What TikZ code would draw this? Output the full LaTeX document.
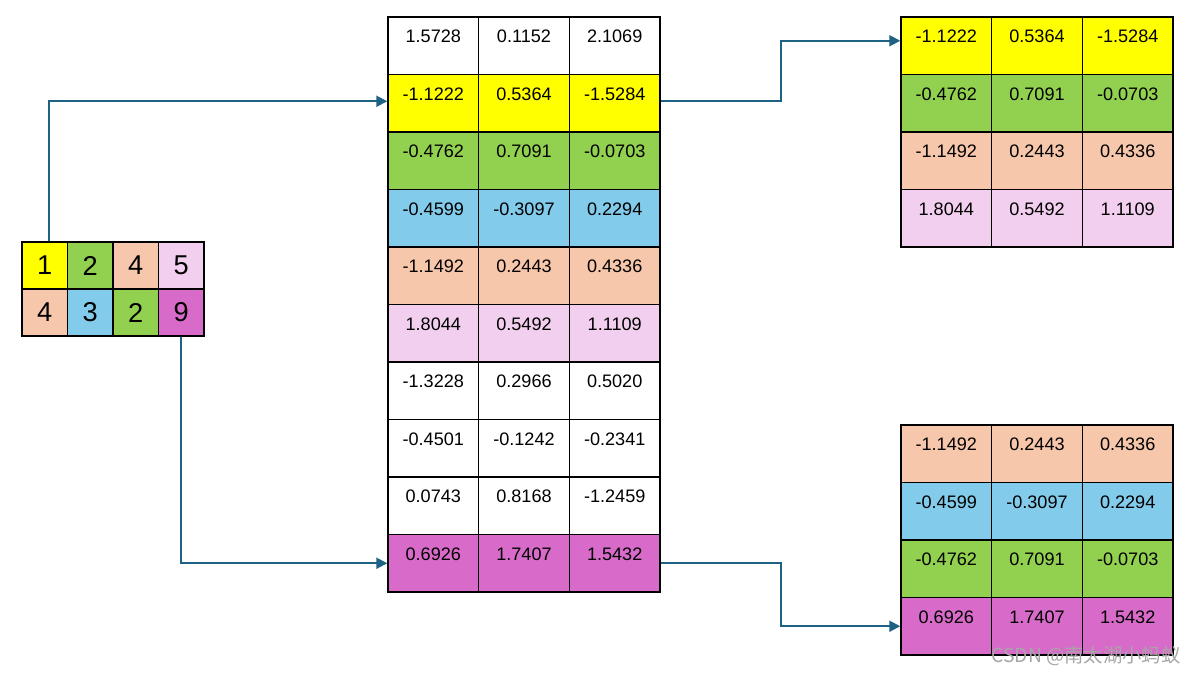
\documentclass[tikz,border=0pt]{standalone}
\usepackage{fontspec}
\setmainfont{Liberation Sans}
\newfontfamily\cjkfont{Noto Sans CJK SC}
\usetikzlibrary{arrows.meta}
\definecolor{cyel}{HTML}{FFFF00}
\definecolor{cgrn}{HTML}{92D050}
\definecolor{cblu}{HTML}{83CBEB}
\definecolor{cpch}{HTML}{F7C7AC}
\definecolor{cpnk}{HTML}{F2CFEE}
\definecolor{cmag}{HTML}{D86BCA}
\definecolor{carr}{HTML}{1D6284}

\begin{document}
\begin{tikzpicture}[x=0.02cm, y=-0.02cm,
    cell/.style={draw, line width=0.8pt, minimum width=1.813cm, minimum height=1.15cm, inner sep=0pt,
      text height=0.34cm, text depth=0.46cm, font=\fontsize{10.3}{12}\selectfont},
    small/.style={draw, line width=0.8pt, minimum width=0.91cm, minimum height=0.94cm, inner sep=0pt,
      font=\fontsize{15.5}{18}\selectfont},
    link/.style={-{Triangle[length=2.2mm, width=2.2mm]}, carr, line width=1.1pt}]
  \useasboundingbox (0,0) rectangle (1198,677);
  % index table
  \foreach \c/\v/\col in {1/1/cyel, 2/2/cgrn, 3/4/cpch, 4/5/cpnk}
    \node[small, fill=\col] (l1-\c) at ({22+45.5*(\c-0.5)},265.5) {\v};
  \foreach \c/\v/\col in {1/4/cpch, 2/3/cblu, 3/2/cgrn, 4/9/cmag}
    \node[small, fill=\col] (l2-\c) at ({22+45.5*(\c-0.5)},312.5) {\v};
  % embedding table
  \foreach \r/\a/\b/\d/\col in {1/1.5728/0.1152/2.1069/white, 2/-1.1222/0.5364/-1.5284/cyel,
      3/-0.4762/0.7091/-0.0703/cgrn, 4/-0.4599/-0.3097/0.2294/cblu, 5/-1.1492/0.2443/0.4336/cpch,
      6/1.8044/0.5492/1.1109/cpnk, 7/-1.3228/0.2966/0.5020/white, 8/-0.4501/-0.1242/-0.2341/white,
      9/0.0743/0.8168/-1.2459/white, 10/0.6926/1.7407/1.5432/cmag} {
    \node[cell, fill=\col] (m\r-1) at (433.3,{17+57.5*(\r-0.5)}) {\a};
    \node[cell, fill=\col] (m\r-2) at (524,{17+57.5*(\r-0.5)}) {\b};
    \node[cell, fill=\col] (m\r-3) at (614.7,{17+57.5*(\r-0.5)}) {\d};
  }
  % lookup results
  \foreach \r/\a/\b/\d/\col in {1/-1.1222/0.5364/-1.5284/cyel, 2/-0.4762/0.7091/-0.0703/cgrn,
      3/-1.1492/0.2443/0.4336/cpch, 4/1.8044/0.5492/1.1109/cpnk} {
    \node[cell, fill=\col] (tr\r-1) at (946.3,{17+57.5*(\r-0.5)}) {\a};
    \node[cell, fill=\col] (tr\r-2) at (1037,{17+57.5*(\r-0.5)}) {\b};
    \node[cell, fill=\col] (tr\r-3) at (1127.7,{17+57.5*(\r-0.5)}) {\d};
  }
  \foreach \r/\a/\b/\d/\col in {1/-1.1492/0.2443/0.4336/cpch, 2/-0.4599/-0.3097/0.2294/cblu,
      3/-0.4762/0.7091/-0.0703/cgrn, 4/0.6926/1.7407/1.5432/cmag} {
    \node[cell, fill=\col] (br\r-1) at (946.3,{425+57.5*(\r-0.5)}) {\a};
    \node[cell, fill=\col] (br\r-2) at (1037,{425+57.5*(\r-0.5)}) {\b};
    \node[cell, fill=\col] (br\r-3) at (1127.7,{425+57.5*(\r-0.5)}) {\d};
  }
  \draw[link] ([xshift=0.08cm]l1-1.north) |- ([yshift=0.04cm]m2-1.west);
  \draw[link] (l2-4.south) |- (m10-1.west);
  \draw[link] ([yshift=0.04cm]m2-3.east) -- ++(120,0) |- ([yshift=0.1cm]tr1-1.west);
  \draw[link] (m10-3.east) -- ++(120,0) |- (br4-1.west);
  \node[text=gray!70, font=\cjkfont\fontsize{11}{13}\selectfont] (mark) at (1086,656) {CSDN @南太湖小蚂蚁};
\end{tikzpicture}
\end{document}
